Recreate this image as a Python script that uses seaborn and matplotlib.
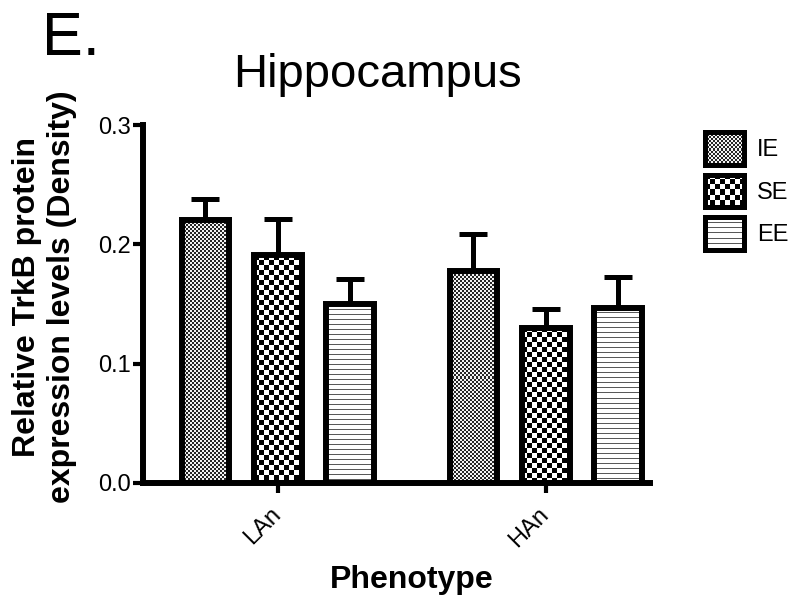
import numpy as np
import pandas as pd
import seaborn as sns
import matplotlib.pyplot as plt
from matplotlib.patches import Patch, Rectangle
from matplotlib.legend_handler import HandlerBase
from matplotlib.image import BboxImage
from matplotlib.transforms import Bbox, TransformedBbox, ScaledTranslation
from matplotlib.colors import Normalize

# data (mean and SEM)
phenotypes = ["LAn", "HAn"]
housing = ["IE", "SE", "EE"]
ie_mean = [0.220, 0.178]
se_mean = [0.191, 0.130]
ee_mean = [0.150, 0.147]
ie_sem = [0.018, 0.031]
se_sem = [0.030, 0.016]
ee_sem = [0.021, 0.026]
yticks = [0.0, 0.1, 0.2, 0.3]

rows = []
for grp, means, sems in zip(housing, [ie_mean, se_mean, ee_mean], [ie_sem, se_sem, ee_sem]):
    for ph, m, s in zip(phenotypes, means, sems):
        rows.append({"Phenotype": ph, "Housing": grp, "Density": m, "SEM": s})
df = pd.DataFrame(rows)

sns.set_style("ticks")
plt.rcParams["font.family"] = ["Liberation Sans", "DejaVu Sans"]
plt.rcParams.update({"text.color": "black", "axes.labelcolor": "black",
                     "xtick.color": "black", "ytick.color": "black",
                     "axes.edgecolor": "black"})


def texture(kind, ny, nx):
    # fill patterns like the GraphPad ones
    yy, xx = np.indices((ny, nx))
    if kind == "IE":
        return np.where(((xx // 2) + (yy // 2)) % 2 == 0, 0.15, 0.95)
    if kind == "SE":
        return np.where(((xx // 5) + (yy // 5)) % 2 == 0, 0.0, 1.0)
    return np.where(yy % 5 == 0, 0.35, 1.0)


class TextureHandler(HandlerBase):
    def __init__(self, kind):
        super().__init__()
        self.kind = kind

    def create_artists(self, legend, orig_handle, xdescent, ydescent,
                       width, height, fontsize, trans):
        bb = Bbox.from_bounds(-xdescent, -ydescent, width, height)
        img = BboxImage(TransformedBbox(bb, trans), cmap="gray",
                        norm=Normalize(0, 1), interpolation="nearest")
        img.set_data(texture(self.kind, 32, 39))
        rect = Rectangle((-xdescent, -ydescent), width, height,
                         facecolor="none", edgecolor="black", lw=3.6,
                         transform=trans)
        return [img, rect]


fig = plt.figure(figsize=(8, 5.97), dpi=100)
ax = fig.add_axes([0.179, 0.191, 0.634, 0.5996])

sns.barplot(
    data=df, x="Phenotype", y="Density", hue="Housing",
    order=phenotypes, hue_order=housing,
    palette=["white"] * 3, edgecolor="black", linewidth=4.3,
    width=0.81, gap=0.34, errorbar=None, legend=False, ax=ax
)

ax.set_xlim(-0.502, 1.39)
ax.set_ylim(0, 0.3)

# textures inside the bars + upper error bars
for grp, cont in zip(housing, ax.containers):
    sems = df[df["Housing"] == grp]["SEM"].values
    xs, ys = [], []
    for bar in cont:
        x0, w, h = bar.get_x(), bar.get_width(), bar.get_height()
        (px0, py0), (px1, py1) = ax.transData.transform([(x0, 0), (x0 + w, h)])
        tex = texture(grp, max(int(round(py1 - py0)), 1), max(int(round(px1 - px0)), 1))
        im = ax.imshow(tex, extent=(x0, x0 + w, 0, h), cmap="gray", vmin=0, vmax=1,
                       interpolation="nearest", aspect="auto", zorder=0.9)
        im.set_clip_path(bar)
        bar.set_facecolor("none")
        bar.set_zorder(2)
        xs.append(x0 + w / 2)
        ys.append(h)
    ax.errorbar(xs, ys, yerr=[np.zeros(len(sems)), sems], fmt="none",
                ecolor="black", elinewidth=3.6, capsize=10, capthick=3.6,
                zorder=0.8)

ax.set_xlim(-0.502, 1.39)
ax.set_ylim(0, 0.3)
ax.set_yticks(yticks)
ax.set_yticklabels([f"{t:.1f}" for t in yticks])

sns.despine(ax=ax)
for side in ["left", "bottom"]:
    ax.spines[side].set_linewidth(4.3)
    ax.spines[side].set_capstyle("projecting")
ax.tick_params(axis="both", direction="out", length=7, width=3, labelsize=17, pad=2)
ax.tick_params(axis="x", pad=5)
shift = ScaledTranslation(-0.08, -0.04, fig.dpi_scale_trans)
for lab in ax.get_xticklabels():
    lab.set_rotation(45)
    lab.set_ha("right")
    lab.set_va("top")
    lab.set_rotation_mode("anchor")
    lab.set_transform(lab.get_transform() + shift)

ax.set_xlabel("Phenotype", fontsize=23, fontweight="bold")
ax.xaxis.set_label_coords(0.53, -0.228)
ax.set_ylabel("Relative TrkB protein\nexpression levels (Density)",
              fontsize=23, fontweight="bold", linespacing=1.25)
ax.yaxis.set_label_coords(-0.13, 0.52)
ax.set_title("Hippocampus", fontsize=34, x=0.4615, y=1.106, pad=0)

fig.text(42 / 800, 1 - 55 / 597, "E.", fontsize=44, va="baseline", ha="left")

handles = [Patch(facecolor="white", edgecolor="black") for _ in housing]
ax.legend(handles, housing,
          handler_map={h: TextureHandler(k) for h, k in zip(handles, housing)},
          loc="upper left", bbox_to_anchor=(705 / 800, 1 - 132 / 597),
          bbox_transform=fig.transFigure, frameon=False, fontsize=17,
          handlelength=1.65, handleheight=1.75, labelspacing=0.42,
          handletextpad=0.55, borderaxespad=0, borderpad=0)

fig.savefig("out.png", dpi=100)
